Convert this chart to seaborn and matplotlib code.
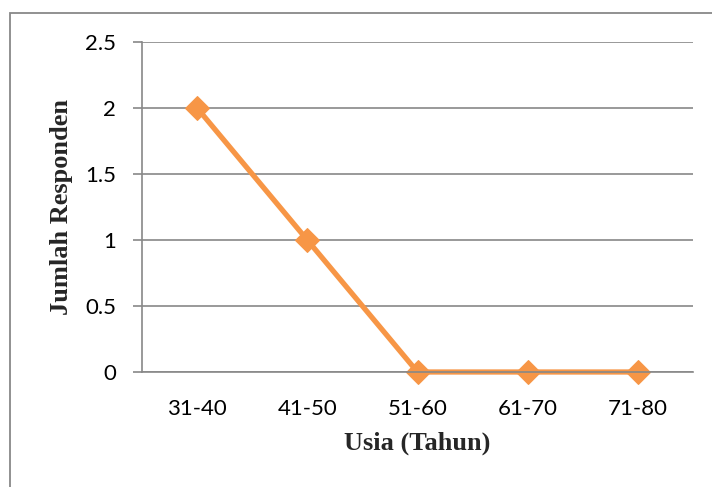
import matplotlib
matplotlib.use("Agg")
import matplotlib.pyplot as plt
import seaborn as sns
import pandas as pd
from matplotlib.patches import Rectangle

# Data
usia = ['31-40', '41-50', '51-60', '61-70', '71-80']
jumlah = [2, 1, 0, 0, 0]
yticks = [0, 0.5, 1, 1.5, 2, 2.5]

df = pd.DataFrame({'usia': usia, 'jumlah': jumlah})

sns.set_style('white')
plt.rcParams['font.family'] = ['Lato', 'DejaVu Sans']

fig = plt.figure(figsize=(7.12, 4.87), dpi=100)
ax = fig.add_axes([142 / 712, 1 - 372 / 487, (693 - 142) / 712, (372 - 42) / 487])

sns.lineplot(data=df, x='usia', y='jumlah', ax=ax, color='#F79646', linewidth=3.8,
             marker='D', markersize=12, markeredgecolor='#F79646', sort=False, clip_on=False)

ax.set_xlim(-0.5, len(usia) - 0.5)
ax.set_ylim(0, 2.5)
ax.set_yticks(yticks)
ax.set_yticklabels([f'{v:g}' for v in yticks])
ax.grid(axis='y', color='#888888', linewidth=1.2)
ax.set_axisbelow(True)

for side in ['top', 'right']:
    ax.spines[side].set_visible(False)
ax.spines['left'].set_color('#888888')
ax.spines['left'].set_linewidth(1.2)
ax.spines['bottom'].set_color('#888888')
ax.spines['bottom'].set_linewidth(1.2)

ax.tick_params(axis='y', which='both', left=True, length=6.5, width=1.2, color='#888888',
               labelsize=16, pad=12, labelcolor='black')
ax.tick_params(axis='x', bottom=False, labelsize=16, pad=16, labelcolor='black')

ax.set_xlabel('Usia (Tahun)', family='Liberation Serif', fontweight='bold', fontsize=19, labelpad=9)
ax.set_ylabel('Jumlah Responden', family='Liberation Serif', fontweight='bold', fontsize=19, labelpad=9)

# outer chart frame (only left/top edges visible in the original crop)
fig.patches.append(Rectangle((10 / 712, -0.1), 1.2, 1 - 13 / 487 + 0.1, transform=fig.transFigure,
                             fill=False, edgecolor='#888888', linewidth=1.3))

fig.savefig('out.png', dpi=100)
